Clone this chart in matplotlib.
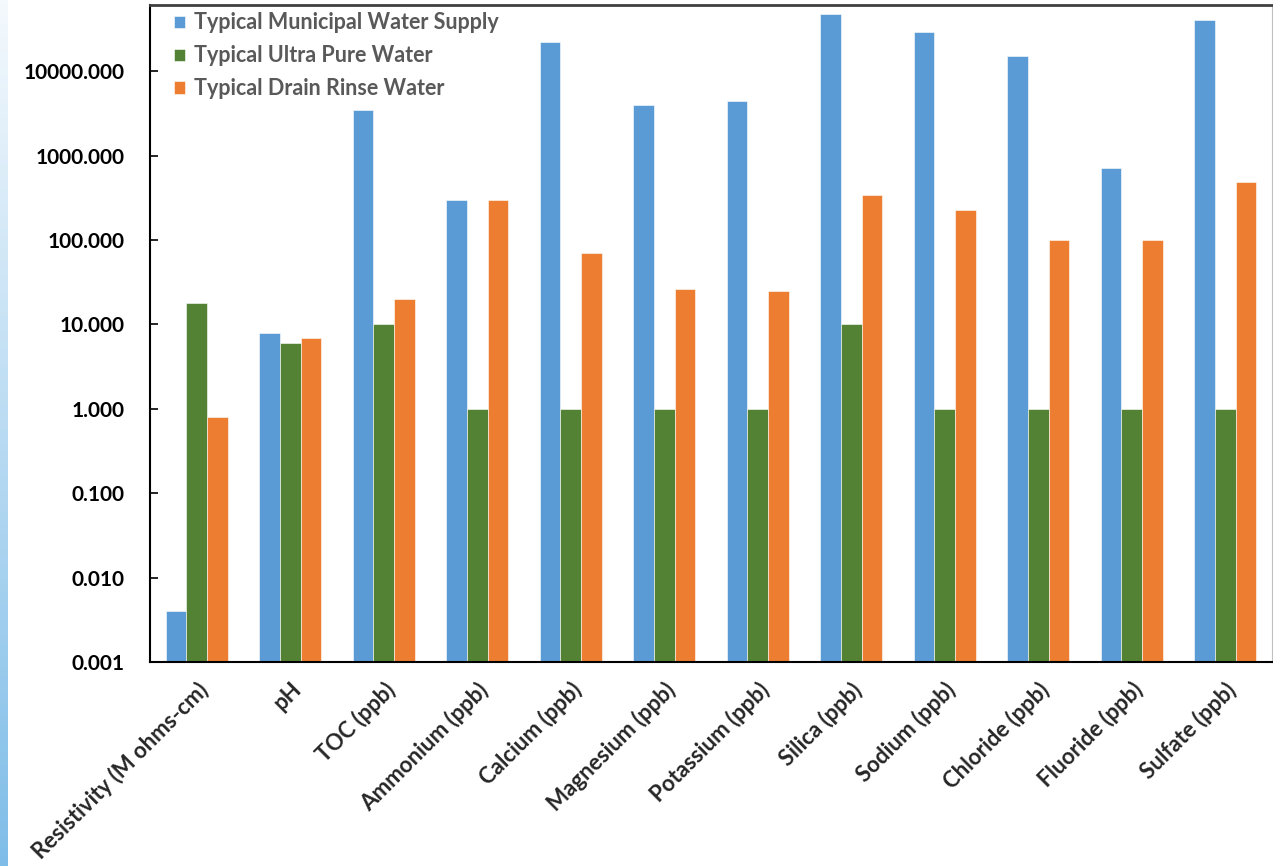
import matplotlib
matplotlib.use('Agg')
import matplotlib.pyplot as plt
from matplotlib.ticker import FixedLocator, FuncFormatter, NullLocator
import numpy as np

plt.rcParams['font.family'] = ['Lato', 'DejaVu Sans']

categories = ['Resistivity (M ohms-cm)', 'pH', 'TOC (ppb)', 'Ammonium (ppb)', 'Calcium (ppb)',
              'Magnesium (ppb)', 'Potassium (ppb)', 'Silica (ppb)', 'Sodium (ppb)',
              'Chloride (ppb)', 'Fluoride (ppb)', 'Sulfate (ppb)']
municipal = [0.004, 8, 3500, 300, 22000, 4000, 4400, 48000, 29000, 15000, 720, 40000]
ultra_pure = [18, 6, 10, 1, 1, 1, 1, 10, 1, 1, 1, 1]
drain_rinse = [0.8, 7, 20, 300, 70, 26, 25, 340, 230, 100, 100, 490]
series_names = ['Typical Municipal Water Supply', 'Typical Ultra Pure Water', 'Typical Drain Rinse Water']
colors = ['#5b9bd5', '#548235', '#ed7d31']
yticks = [0.001, 0.01, 0.1, 1, 10, 100, 1000, 10000]

fig = plt.figure(figsize=(12.73, 8.66), dpi=100)

# light blue strip on the left edge
strip = fig.add_axes([0, 0, 8/1273, 1])
grad = np.linspace(0, 1, 256).reshape(-1, 1)
strip.imshow(grad, aspect='auto', cmap=matplotlib.colors.LinearSegmentedColormap.from_list(
    'strip', ['#f4f9fd', '#7fbde8']), origin='upper')
strip.set_axis_off()

ax = fig.add_axes([150/1273, 1-662/866, 1122/1273, 657/866])
x = np.arange(len(categories))
w = 0.22
for i, (vals, name, c) in enumerate(zip([municipal, ultra_pure, drain_rinse], series_names, colors)):
    ax.bar(x + (i-1)*w, vals, w, color=c, label=name, edgecolor='#ffffff', linewidth=0.4)

ax.set_yscale('log')
ax.set_ylim(0.001, 61000)
ax.set_xlim(-0.5, len(categories)-0.5)
ax.yaxis.set_major_locator(FixedLocator(yticks))
ax.yaxis.set_minor_locator(NullLocator())
ax.yaxis.set_major_formatter(FuncFormatter(lambda v, p: '%.3f' % v))
ax.tick_params(axis='y', direction='in', length=6, width=1.2, labelsize=15, pad=18)
for lab in ax.get_yticklabels():
    lab.set_fontweight('bold')
ax.set_xticks(x)
ax.set_xticklabels(categories, rotation=45, ha='right', rotation_mode='anchor',
                   fontsize=16, fontweight='bold', color='#262626')
ax.tick_params(axis='x', length=0, pad=12)

ax.spines['left'].set_linewidth(1.5)
ax.spines['bottom'].set_linewidth(1.5)
ax.spines['top'].set_linewidth(2)
ax.spines['top'].set_color('#404040')
ax.spines['right'].set_color('#bfbfbf')

leg = ax.legend(loc='upper left', bbox_to_anchor=(0.012, 1.005), frameon=False, fontsize=15.5,
                borderpad=0.0, handlelength=0.5, handleheight=0.5, handletextpad=0.4,
                labelspacing=0.55)
for t in leg.get_texts():
    t.set_color('#595959')
    t.set_fontweight('bold')

fig.savefig('out.png', dpi=100)
